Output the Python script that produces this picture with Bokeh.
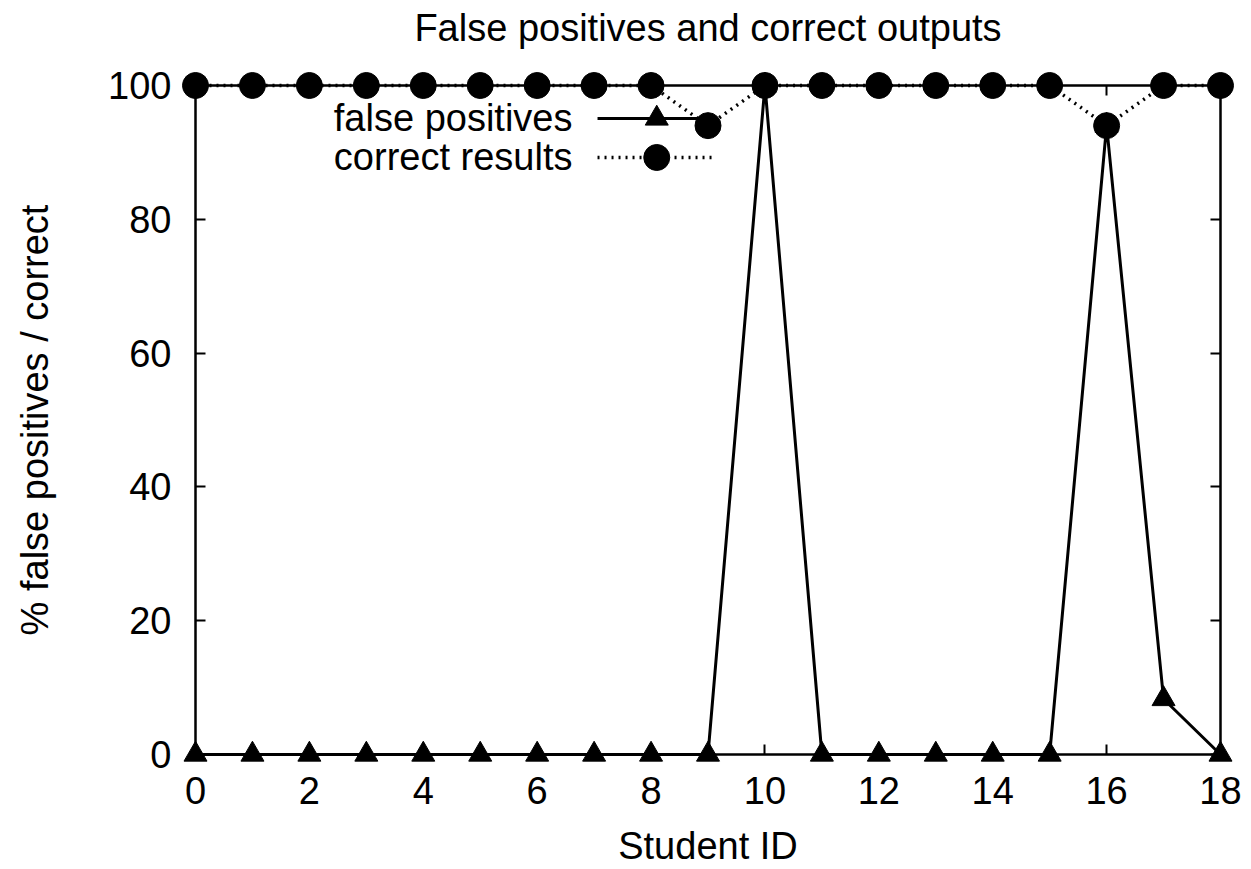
from bokeh.plotting import figure
from bokeh.models import LinearAxis, Range1d, FixedTicker, ColumnDataSource
from bokeh.layouts import column
from bokeh.core.properties import value
from bokeh.embed import file_html
from bokeh.resources import INLINE

# ---- data ----
student_id = list(range(19))
false_positives = [0, 0, 0, 0, 0, 0, 0, 0, 0, 0, 100, 0, 0, 0, 0, 0, 94, 8.3, 0]
correct_results = [100, 100, 100, 100, 100, 100, 100, 100, 100, 94, 100, 100, 100, 100, 100, 100, 94, 100, 100]
x_ticks = [0, 2, 4, 6, 8, 10, 12, 14, 16, 18]
y_ticks = [0, 20, 40, 60, 80, 100]
series_names = ["false positives", "correct results"]
title_text = "False positives and correct outputs"

FONT = "Liberation Sans"
FS = "38px"
W, H = 1251, 869
TITLE_H = 60

# ---- title strip (gnuplot-like title position, centred over the frame) ----
t = figure(width=W, height=TITLE_H, output_backend="svg", toolbar_location=None,
           x_range=Range1d(0, 18), y_range=Range1d(0, TITLE_H),
           min_border_left=195, min_border_right=31, min_border_top=0, min_border_bottom=0,
           x_axis_type=None, y_axis_type=None)
t.outline_line_color = None
t.grid.visible = False
t.background_fill_color = "white"
t.border_fill_color = "white"
t.text(x=[9], y=[TITLE_H - 27], text=[title_text], text_align="center",
       text_baseline="middle", text_font=value(FONT), text_font_size=FS, text_color="black")

# ---- main plot ----
p = figure(width=W, height=H - TITLE_H, output_backend="svg", toolbar_location=None,
           x_range=Range1d(0, 18), y_range=Range1d(0, 100),
           min_border_left=195, min_border_right=31, min_border_top=85 - TITLE_H,
           min_border_bottom=115)

p.grid.visible = False
p.outline_line_color = "black"
p.outline_line_width = 2
p.background_fill_color = "white"
p.border_fill_color = "white"

xa = p.xaxis[0]
ya = p.yaxis[0]
xa.ticker = FixedTicker(ticks=x_ticks)
ya.ticker = FixedTicker(ticks=y_ticks)
for ax in (xa, ya):
    ax.major_tick_in = 10
    ax.major_tick_out = 0
    ax.minor_tick_line_color = None
    ax.axis_line_color = "black"
    ax.axis_line_width = 2
    ax.major_tick_line_color = "black"
    ax.major_tick_line_width = 2
    ax.major_label_text_font = FONT
    ax.major_label_text_font_size = FS
    ax.major_label_text_color = "black"
    ax.axis_label_text_font = FONT
    ax.axis_label_text_font_size = FS
    ax.axis_label_text_font_style = "normal"
    ax.axis_label_text_color = "black"
xa.axis_label = "Student ID"
ya.axis_label = "% false positives / correct"
xa.major_label_standoff = 22
ya.major_label_standoff = 24
xa.axis_label_standoff = 18
ya.axis_label_standoff = 49

# mirrored ticks (gnuplot style), no labels
top = LinearAxis(ticker=FixedTicker(ticks=x_ticks))
right = LinearAxis(ticker=FixedTicker(ticks=y_ticks))
for ax in (top, right):
    ax.major_tick_in = 10
    ax.major_tick_out = 0
    ax.minor_tick_line_color = None
    ax.axis_line_color = "black"
    ax.axis_line_width = 2
    ax.major_tick_line_color = "black"
    ax.major_tick_line_width = 2
    ax.major_label_text_color = None
    ax.major_label_text_font_size = "1px"
    ax.major_label_standoff = 0
p.add_layout(top, "above")
p.add_layout(right, "right")

src = ColumnDataSource(dict(x=student_id, fp=false_positives, cr=correct_results))

fp_line = p.line("x", "fp", source=src, line_color="black", line_width=3)
fp_pts = p.scatter("x", "fp", source=src, marker="triangle", size=23,
                   fill_color="black", line_color="black")
cr_line = p.line("x", "cr", source=src, line_color="black", line_width=3.5, line_dash="2 5")
cr_pts = p.scatter("x", "cr", source=src, size=26, marker="circle",
                   fill_color="black", line_color="black")
for r in (fp_line, fp_pts, cr_line, cr_pts):
    r.level = "overlay"

# ---- gnuplot-style key (text right-aligned, sample on the right) ----
key_text_x = 6.62
key_line_x0, key_line_x1, key_mark_x = 7.06, 9.13, 8.10
key_rows_y = [95.07, 89.24]
p.text(x=[key_text_x] * 2, y=key_rows_y, text=series_names, text_align="right",
       text_baseline="middle", text_font=value(FONT), text_font_size=FS, text_color="black")
p.segment(x0=[key_line_x0], y0=[key_rows_y[0]], x1=[key_line_x1], y1=[key_rows_y[0]],
          line_color="black", line_width=3)
p.scatter(x=[key_mark_x], y=[key_rows_y[0]], marker="triangle", size=23,
          fill_color="black", line_color="black")
p.segment(x0=[key_line_x0], y0=[key_rows_y[1]], x1=[key_line_x1], y1=[key_rows_y[1]],
          line_color="black", line_width=3.5, line_dash="2 5")
p.scatter(x=[key_mark_x], y=[key_rows_y[1]], marker="circle", size=26,
          fill_color="black", line_color="black")

layout = column(t, p, spacing=0)
open("out.html", "w").write(file_html(layout, INLINE))
